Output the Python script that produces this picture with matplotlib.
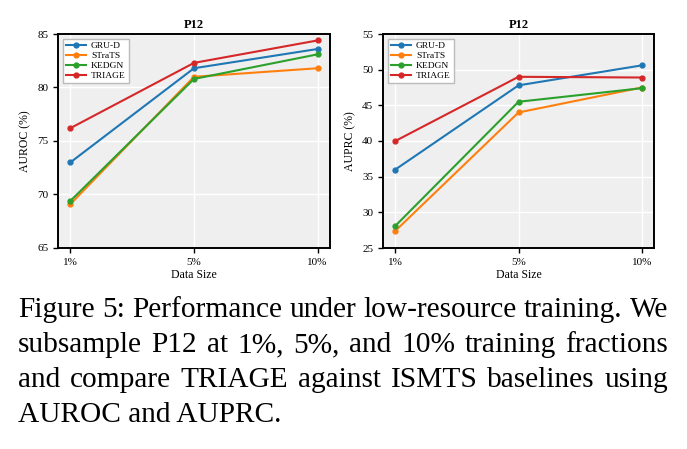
import matplotlib
matplotlib.use("Agg")
import matplotlib.pyplot as plt

plt.rcParams['font.family'] = ['Liberation Serif', 'DejaVu Serif']

## data
sizes = ['1%', '5%', '10%']
methods = ['GRU-D', 'STraTS', 'KEDGN', 'TRIAGE']
colors = ['#1f77b4', '#ff7f0e', '#2ca02c', '#d62728']

auroc_grud = [73.0, 81.8, 83.6]
auroc_strats = [69.1, 81.0, 81.8]
auroc_kedgn = [69.4, 80.8, 83.1]
auroc_triage = [76.2, 82.3, 84.4]

auprc_grud = [36.0, 47.8, 50.6]
auprc_strats = [27.4, 44.0, 47.5]
auprc_kedgn = [28.1, 45.5, 47.4]
auprc_triage = [40.0, 49.0, 48.9]

caption = ["Figure 5: Performance under low-resource training. We",
           "subsample P12 at 1%, 5%, and 10% training fractions",
           "and compare TRIAGE against ISMTS baselines using",
           "AUROC and AUPRC."]

W, H = 687, 449
fig = plt.figure(figsize=(W / 100, H / 100), dpi=100)

def panel(rect, series, ylabel, ylim):
	ax = fig.add_axes(rect)
	ax.set_facecolor('#efefef')
	x = range(len(sizes))
	for vals, name, c in zip(series, methods, colors):
		ax.plot(x, vals, '-o', color=c, lw=1.5, ms=3.5, label=name)
	ax.set_xticks(list(x))
	ax.set_xticklabels(sizes, fontsize=8)
	ax.set_ylim(*ylim)
	ax.set_yticks(range(ylim[0], ylim[1] + 1, 5))
	ax.tick_params(axis='y', labelsize=8)
	ax.tick_params(direction='out', length=3.5, width=1, color='black')
	ax.grid(True, color='white', lw=1)
	ax.set_axisbelow(True)
	for s in ax.spines.values():
		s.set_color('black')
		s.set_linewidth(1.4)
	ax.set_title('P12', fontsize=9, fontweight='bold', pad=4)
	ax.set_xlabel('Data Size', fontsize=8.5, labelpad=2)
	ax.set_ylabel(ylabel, fontsize=8.5, labelpad=4)
	ax.legend(loc='upper left', fontsize=6.8, frameon=True, fancybox=False,
	          edgecolor='#bbbbbb', framealpha=1, handlelength=2.2,
	          borderpad=0.3, labelspacing=0.15, handletextpad=0.5)
	return ax

# axes rectangles in figure fractions, from pixel boxes
panel([58 / W, 1 - 248 / H, 272 / W, 214 / H],
      [auroc_grud, auroc_strats, auroc_kedgn, auroc_triage], 'AUROC (%)', (65, 85))
panel([383 / W, 1 - 248 / H, 271 / W, 214 / H],
      [auprc_grud, auprc_strats, auprc_kedgn, auprc_triage], 'AUPRC (%)', (25, 55))

## caption, justified like the paper text (last line left as is)
left, right = 18, 668
fs = 21.2
fig.canvas.draw()
rend = fig.canvas.get_renderer()
for i, line in enumerate(caption):
	yb = 1 - (317 + 35 * i) / H
	if i == len(caption) - 1:
		fig.text(left / W, yb, line, fontsize=fs, va='baseline', ha='left')
		continue
	words = line.split(' ')
	txts = [fig.text(0, yb, w, fontsize=fs, va='baseline', ha='left') for w in words]
	widths = [t.get_window_extent(rend).width for t in txts]
	gap = (right - left - sum(widths)) / (len(words) - 1)
	xpos = left
	for t, wd in zip(txts, widths):
		t.set_x(xpos / W)
		xpos += wd + gap

fig.savefig('out.png', dpi=100)
